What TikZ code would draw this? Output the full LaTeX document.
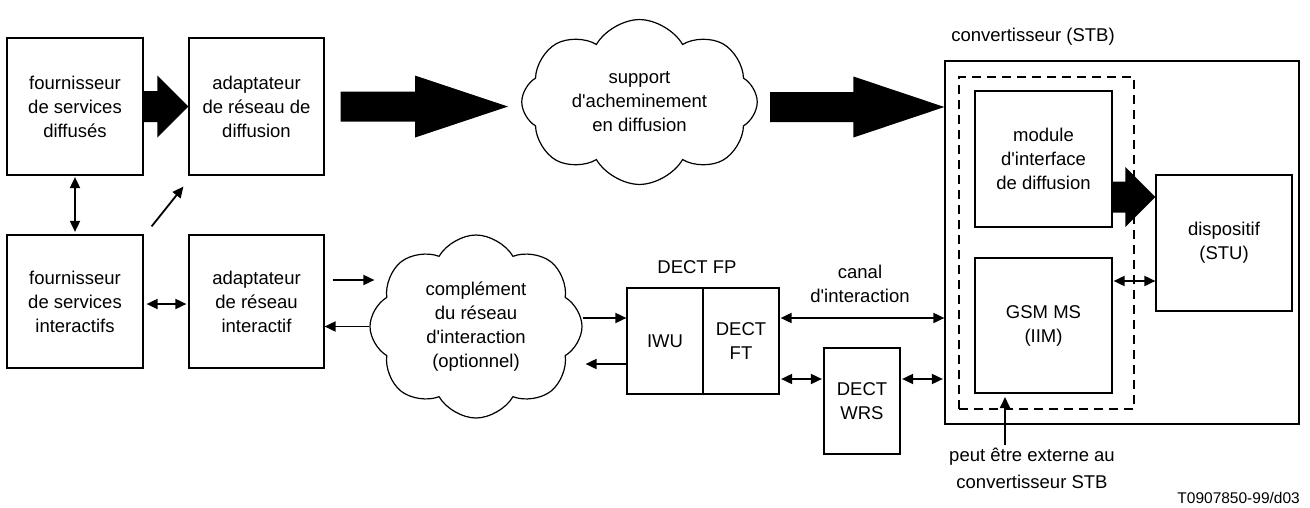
\documentclass[tikz,border=0pt]{standalone}
\usepackage{fontspec}
\setmainfont{Liberation Sans}
\usetikzlibrary{arrows.meta,shapes.symbols,calc}
\newcommand\ap{\textquotesingle}
\newcommand\fatarrow[5]{%
  \fill let \p1=(#1), \p2=(#2) in
    (\x1,\y1+#4 pt) -- (\x2-#3 pt,\y1+#4 pt) -- (\x2-#3 pt,\y1+#5 pt) -- (\x2,\y1)
    -- (\x2-#3 pt,\y1-#5 pt) -- (\x2-#3 pt,\y1-#4 pt) -- (\x1,\y1-#4 pt) -- cycle;}
\begin{document}
\begin{tikzpicture}[x=1pt,y=-1pt,
  txt/.style={font=\fontsize{18.5}{24}\selectfont,align=center,inner sep=0pt},
  blk/.style={txt,draw,line width=1.2pt,minimum width=#1},
  blk/.default=136pt,
  cld/.style={txt,draw,line width=1.2pt,cloud,cloud puffs=8,cloud puff arc=120,cloud ignores aspect},
  thin/.style={line width=1.8pt,-{Triangle[length=11pt,width=10pt]}},
  both/.style={line width=1.8pt,{Triangle[length=11pt,width=10pt]}-{Triangle[length=11pt,width=10pt]}},
]
\useasboundingbox (0,0) rectangle (1310,507);
% boxes
\node[blk, minimum height=137pt] (b1) at (75,106.5) {fournisseur\\de services\\diffusés};
\node[blk=135pt, minimum height=137pt] (b2) at (256.5,106.5) {adaptateur\\de réseau de\\diffusion};
\node[blk, minimum height=133pt] (b3) at (75,301.5) {fournisseur\\de services\\interactifs};
\node[blk=135pt, minimum height=133pt] (b4) at (256.5,301.5) {adaptateur\\de réseau\\interactif};
\node[cld, inner xsep=12pt, inner ysep=14pt] (c1) at (639.5,102) {support\\d\ap acheminement\\en diffusion};
\node[cld, minimum width=212pt, minimum height=183pt] (c2) at (476,326.5) {complément\\du réseau\\d\ap interaction\\(optionnel)};
\node[blk=76pt, minimum height=106pt] (iwu) at (665,341) {IWU};
\node[blk=76pt, minimum height=106pt] (ft) at (741,341) {DECT\\FT};
\node[txt] (fpl) at (697,267) {DECT FP};
\node[blk=76pt, minimum height=106pt] (wrs) at (862,401) {DECT\\WRS};
\node[txt] (canal) at (860,283.5) {canal\\d\ap interaction};
\node[draw,line width=1.2pt,minimum width=354pt,minimum height=363pt] (stb) at (1122,242.5) {};
\node[txt] (stbl) at (1033,37) {convertisseur (STB)};
\node[draw,line width=2pt,dash pattern=on 9pt off 6pt,minimum width=175pt,minimum height=332pt] (dash) at (1046.5,243) {};
\node[blk=137pt, minimum height=136pt] (mod) at (1043.5,159) {module\\d\ap interface\\de diffusion};
\node[blk=137pt, minimum height=135pt] (gsm) at (1043.5,325.5) {GSM MS\\(IIM)};
\node[blk=136pt, minimum height=136pt] (disp) at (1224,243) {dispositif\\(STU)};
\node[txt, font=\fontsize{18.5}{26.5}\selectfont] (note) at (1032,468.5) {peut être externe au\\convertisseur STB};
\node[txt, font=\fontsize{15.5}{18}\selectfont, anchor=east] (id) at (1300,498) {T0907850-99/d03};
% fat arrows
\fatarrow{b1.east}{b2.west}{31}{15.5}{31}
\coordinate (f2s) at ([xshift=16pt]b2.east);
\fatarrow{f2s}{508,106.5}{93}{15}{31}
\coordinate (f3s) at (770,107);
\fatarrow{f3s}{f3s -| stb.west}{91}{15}{30.5}
\coordinate (f4s) at ([yshift=-38pt]mod.east);
\fatarrow{f4s}{f4s -| disp.west}{30}{15.5}{30}
% thin arrows
\draw[both,shorten <=1.5pt,shorten >=2.5pt] (b1.south) -- (b3.north);
\draw[thin] ([xshift=8pt,yshift=8pt]b3.north east) -- ([xshift=-5pt,yshift=-11pt]b2.south west);
\draw[both,shorten <=3pt,shorten >=2pt] ([yshift=-2.5pt]b3.east) -- ([yshift=-2.5pt]b4.west);
\coordinate (k0) at ([xshift=8pt,yshift=21.5pt]b4.east);
\draw[thin] (k0) -- ([xshift=5pt]k0 -| c2.west);
\draw[thin] (c2.west) -- (c2.west -| b4.east);
\coordinate (k1) at ([yshift=23pt]iwu.west);
\draw[thin] (k1 -| c2.east) -- (k1);
\coordinate (k2) at ([yshift=-23pt]iwu.west);
\draw[thin] (k2) -- ([xshift=3pt]k2 -| c2.east);
\coordinate (k3) at ([yshift=23pt]ft.east);
\draw[both,shorten <=1pt] (k3) -- (k3 -| stb.west);
\coordinate (k4) at ([yshift=22pt]wrs.west);
\draw[both,shorten <=1.5pt,shorten >=1.5pt] (k4 -| ft.east) -- (k4);
\draw[both,shorten <=1.5pt,shorten >=1.5pt] (k4 -| wrs.east) -- (k4 -| stb.west);
\coordinate (k5) at ([yshift=-38pt]disp.west);
\draw[both,shorten <=1pt] (k5 -| gsm.east) -- (k5);
\coordinate (k6) at (1005,397);
\draw[thin] (k6 |- note.north) ++(0,-3) -- (k6);
\end{tikzpicture}
\end{document}
